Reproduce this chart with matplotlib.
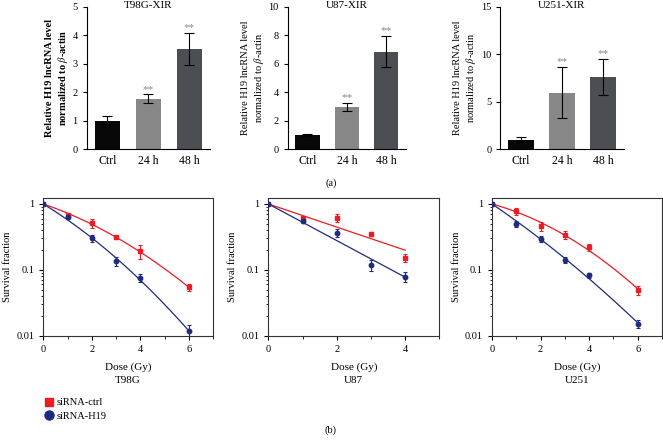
import numpy as np
import matplotlib
matplotlib.use("Agg")
import matplotlib.pyplot as plt
from matplotlib.ticker import FixedLocator, NullFormatter, LogLocator
from matplotlib.lines import Line2D

plt.rcParams['font.family'] = ['Liberation Serif', 'DejaVu Serif']
plt.rcParams['mathtext.fontset'] = 'stix'
plt.rcParams['axes.linewidth'] = 0.8

# (a) relative H19 expression
groups = ['Ctrl', '24 h', '48 h']
bar_colors = ['#080808', '#878787', '#4b4e52']
expr_titles = ['T98G-XIR', 'U87-XIR', 'U251-XIR']
expr_means = [[1.0, 1.77, 3.52],
              [1.0, 2.95, 6.85],
              [1.0, 5.93, 7.60]]
expr_errs = [[0.15, 0.15, 0.57],
             [0.07, 0.27, 1.10],
             [0.28, 2.70, 1.93]]
expr_ymax = [5, 10, 15]
expr_yticks = [[0, 1, 2, 3, 4, 5], [0, 2, 4, 6, 8, 10], [0, 5, 10, 15]]

# (b) clonogenic survival
cells = ['T98G', 'U87', 'U251']
doses = [[0, 1, 2, 3, 4, 6],
         [0, 1, 2, 3, 4],
         [0, 1, 2, 3, 4, 6]]
ctrl_sf = [[1.0, 0.67, 0.51, 0.31, 0.19, 0.054],
           [1.0, 0.62, 0.62, 0.35, 0.152],
           [1.0, 0.77, 0.457, 0.34, 0.219, 0.0496]]
ctrl_err = [[0.0, 0.04, 0.08, 0.015, 0.045, 0.006],
            [0.0, 0.04, 0.09, 0.02, 0.02],
            [0.0, 0.1, 0.07, 0.05, 0.028, 0.0077]]
h19_sf = [[1.0, 0.63, 0.30, 0.137, 0.075, 0.0118],
          [1.0, 0.55, 0.366, 0.117, 0.079],
          [1.0, 0.50, 0.293, 0.14, 0.083, 0.0151]]
h19_err = [[0.0, 0.04, 0.04, 0.022, 0.01, 0.0025],
           [0.0, 0.03, 0.05, 0.022, 0.014],
           [0.0, 0.05, 0.03, 0.015, 0.008, 0.002]]
quadratic_fit = [True, False, True]
dose_xmax = [7, 5, 7]

red = '#ec1c24'
navy = '#1f2b7e'

fig = plt.figure(figsize=(6.63, 4.46), dpi=100)

top_pos = [[0.1308, 0.6659, 0.186, 0.319],
           [0.4339, 0.6659, 0.1784, 0.319],
           [0.7546, 0.6659, 0.1861, 0.319]]
bot_pos = [[0.0653, 0.2473, 0.256, 0.3087],
           [0.4047, 0.2473, 0.2579, 0.3087],
           [0.7421, 0.2473, 0.2564, 0.3087]]

for i in range(3):
    ax = fig.add_axes(top_pos[i])
    x = np.arange(len(groups))
    ax.bar(x, expr_means[i], width=0.62, color=bar_colors, zorder=2)
    ax.errorbar(x, expr_means[i], yerr=expr_errs[i], fmt='none', ecolor='black',
                elinewidth=0.8, capsize=3.5, capthick=0.8, zorder=3)
    for j in (1, 2):
        top = expr_means[i][j] + expr_errs[i][j]
        ax.text(x[j], top + expr_ymax[i] * 0.005, '**', ha='center', va='bottom',
                fontsize=8, color='#8a8a8a')
    ax.set_xlim(-0.5, 2.5)
    ax.set_ylim(0, expr_ymax[i])
    ax.set_yticks(expr_yticks[i])
    ax.set_xticks(x)
    ax.set_xticklabels(groups, fontsize=8.5)
    ax.tick_params(axis='x', length=0, pad=4)
    ax.tick_params(axis='y', labelsize=7.5, length=3, width=0.8, direction='out')
    for s in ('top', 'right'):
        ax.spines[s].set_visible(False)
    p = top_pos[i]
    fig.text(p[0] + p[2] / 2, 0.997, expr_titles[i], ha='center', va='top',
             fontsize=8)
    ax.set_ylabel('Relative H19 lncRNA level\nnormalized to $\\beta$-actin',
                  fontsize=7.5, labelpad=2,
                  fontweight='bold' if i == 0 else 'normal')

fig.text(0.4992, 0.59, '(a)', ha='center', va='center', fontsize=7.5)

for i in range(3):
    ax = fig.add_axes(bot_pos[i])
    d = np.array(doses[i], dtype=float)
    dd = np.linspace(0, d.max(), 200)
    for sf, err, col, mk in ((ctrl_sf[i], ctrl_err[i], red, 's'),
                             (h19_sf[i], h19_err[i], navy, 'o')):
        y = np.log(np.array(sf))
        if quadratic_fit[i]:
            A = np.column_stack([d, d ** 2])
        else:
            A = d[:, None]
        coef = np.linalg.lstsq(A, y, rcond=None)[0]
        if quadratic_fit[i]:
            fit = np.exp(coef[0] * dd + coef[1] * dd ** 2)
        else:
            fit = np.exp(coef[0] * dd)
        ax.plot(dd, fit, color=col, lw=0.9, zorder=2)
        ax.errorbar(d, sf, yerr=err, fmt=mk, color=col, ms=3.2, elinewidth=0.8,
                    capsize=1.5, capthick=0.8, zorder=3)
    ax.set_yscale('log')
    ax.set_ylim(0.01, 1.23)
    ax.set_xlim(0, dose_xmax[i])
    ax.yaxis.set_major_locator(FixedLocator([0.01, 0.1, 1]))
    ax.set_yticklabels(['0.01', '0.1', '1'])
    ax.yaxis.set_minor_locator(LogLocator(base=10, subs=np.arange(2, 10)))
    ax.yaxis.set_minor_formatter(NullFormatter())
    ax.set_xticks(np.arange(0, dose_xmax[i] + 1, 2))
    ax.set_xticks(np.arange(1, dose_xmax[i] + 1, 2), minor=True)
    ax.tick_params(which='major', labelsize=7.5, length=3, width=0.8, direction='out')
    ax.tick_params(which='minor', length=1.8, width=0.6, direction='out')
    for s in ax.spines.values():
        s.set_color('#333333')
    ax.set_xlabel('Dose (Gy)\n' + cells[i], fontsize=8, labelpad=6, linespacing=1.6)
    ax.set_ylabel('Survival fraction', fontsize=7.5, labelpad=3)

handles = [Line2D([], [], ls='none', marker='s', color=red, ms=6),
           Line2D([], [], ls='none', marker='o', color=navy, ms=6.5)]
fig.legend(handles, ['siRNA-ctrl', 'siRNA-H19'], loc='center left',
           bbox_to_anchor=(0.05, 0.082), frameon=False, fontsize=7.5,
           handletextpad=0.2, labelspacing=0.4, handlelength=1.2)

fig.text(0.4992, 0.036, '(b)', ha='center', va='center', fontsize=7.5)

fig.savefig('out.png', dpi=100)
